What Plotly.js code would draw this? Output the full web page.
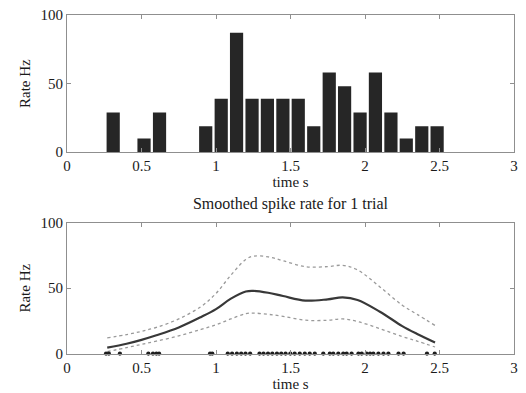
<!DOCTYPE html>
<html>
<head>
<meta charset="utf-8">
<script src="https://cdn.plot.ly/plotly-3.0.1.min.js"></script>
<style>html,body{margin:0;padding:0;background:#fff;}#chart{width:526px;height:393px;}</style>
</head>
<body>
<div id="chart"></div>
<script>
// Histogram (top panel)
const binCenters = [0.310, 0.413, 0.517, 0.621, 0.724, 0.828, 0.931, 1.035, 1.138, 1.242, 1.345,
                    1.449, 1.552, 1.656, 1.760, 1.863, 1.967, 2.070, 2.174, 2.277, 2.381, 2.484];
const binRates = [29, 0, 10, 29, 0, 0, 19, 39, 87, 39, 39, 39, 39, 19, 58, 48, 29, 58, 29, 10, 19, 19];

// Smoothed rate (bottom panel)
const smoothTime = [0.27, 0.4, 0.5, 0.6, 0.75, 0.9, 1.0, 1.1, 1.2, 1.25, 1.35, 1.45, 1.6, 1.75, 1.85, 1.95, 2.1, 2.25, 2.35, 2.47];
const rateMean  = [4.5, 7.5, 10.5, 14, 20, 28, 34, 42, 47.5, 48, 46.5, 44, 40.5, 41.5, 43, 41, 32, 21, 15, 8.5];
const rateUpper = [12, 14.5, 17, 20, 26.5, 36, 46, 60, 72, 74.5, 74, 71, 66.5, 66.5, 67.5, 64, 51, 37, 30, 21.5];
const rateLower = [1.5, 4.5, 7, 9.5, 13.5, 18.5, 22, 26.5, 30.5, 31, 30, 28.5, 25.5, 25.5, 26.5, 24.5, 19, 13, 9.5, 5];

// Spike times
const spikeTimes = [0.262, 0.281, 0.355, 0.546, 0.577, 0.600, 0.618, 0.960, 0.975,
  1.079, 1.108, 1.140, 1.169, 1.198, 1.229, 1.292, 1.319, 1.349, 1.378, 1.409, 1.438,
  1.467, 1.499, 1.528, 1.562, 1.596, 1.629, 1.663, 1.720, 1.764, 1.787, 1.821, 1.854,
  1.877, 1.910, 1.956, 1.978, 2.011, 2.034, 2.056, 2.090, 2.124, 2.157, 2.225, 2.259,
  2.416, 2.468];
const spikeLevel = spikeTimes.map(() => 0);

const xTicks = [0, 0.5, 1, 1.5, 2, 2.5, 3];
const xTickText = ['0', '0.5', '1', '1.5', '2', '2.5', '3'];
const yTicks = [0, 50, 100];

const FONT = "'Liberation Serif', 'Times New Roman', Times, serif";
const axisCol = '#8f8f8f';
const txtCol = '#1a1a1a';

const traces = [
  {type: 'bar', x: binCenters, y: binRates, xaxis: 'x', yaxis: 'y',
   marker: {color: '#262626', line: {width: 0}}, hoverinfo: 'none'},
  {type: 'scatter', mode: 'lines', x: smoothTime, y: rateUpper, xaxis: 'x2', yaxis: 'y2',
   line: {color: '#9a9a9a', width: 1.3, dash: 'dot', shape: 'spline'}},
  {type: 'scatter', mode: 'lines', x: smoothTime, y: rateLower, xaxis: 'x2', yaxis: 'y2',
   line: {color: '#9a9a9a', width: 1.3, dash: 'dot', shape: 'spline'}},
  {type: 'scatter', mode: 'lines', x: smoothTime, y: rateMean, xaxis: 'x2', yaxis: 'y2',
   line: {color: '#383838', width: 2.2, shape: 'spline'}},
  {type: 'scatter', mode: 'markers', x: spikeTimes, y: spikeLevel, xaxis: 'x2', yaxis: 'y2',
   marker: {color: '#1e1e1e', size: 4.2}, cliponaxis: false}
];

function xax(anchor) {
  return {anchor: anchor, range: [0, 3], tickvals: xTicks, ticktext: xTickText,
    ticks: 'inside', ticklen: 4, tickcolor: axisCol, showline: true, linecolor: axisCol,
    linewidth: 1, mirror: 'ticks', showgrid: false, zeroline: false,
    tickfont: {family: FONT, size: 15, color: txtCol},
    title: {text: 'time s', font: {family: FONT, size: 15, color: txtCol}, standoff: 0}};
}
function yax(anchor, domain) {
  return {anchor: anchor, domain: domain, range: [0, 100], tickvals: yTicks,
    ticks: 'inside', ticklen: 4, tickcolor: axisCol, showline: true, linecolor: axisCol,
    linewidth: 1, mirror: 'ticks', showgrid: false, zeroline: false,
    tickfont: {family: FONT, size: 15, color: txtCol},
    title: {text: 'Rate Hz', font: {family: FONT, size: 15, color: txtCol}, standoff: 6}};
}

const layout = {
  width: 526, height: 393,
  margin: {l: 67, r: 12, t: 15, b: 35},
  paper_bgcolor: '#fff', plot_bgcolor: '#fff',
  showlegend: false,
  bargap: 0.14,
  xaxis: xax('y'),
  yaxis: yax('x', [0.6, 1.0]),
  xaxis2: xax('y2'),
  yaxis2: yax('x2', [0.013, 0.394]),
  title: {text: 'Smoothed spike rate for 1 trial', font: {family: FONT, size: 16, color: txtCol},
    x: 0.5, xref: 'paper', xanchor: 'center', y: 1 - 203 / 393, yref: 'container', yanchor: 'middle'}
};

Plotly.newPlot('chart', traces, layout, {displayModeBar: false, staticPlot: true});
</script>
</body>
</html>
